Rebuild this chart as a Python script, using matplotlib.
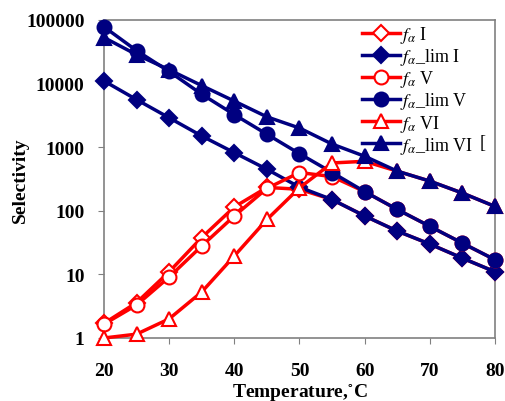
"""Selectivity vs temperature (log scale)"""
import matplotlib

matplotlib.use("Agg")
import matplotlib.pyplot as plt
from matplotlib.ticker import FixedLocator, FuncFormatter, NullLocator

plt.rcParams["font.family"] = ["Liberation Serif", "DejaVu Serif"]
plt.rcParams["mathtext.fontset"] = "stix"

# Data
temperature = [20, 25, 30, 35, 40, 45, 50, 55, 60, 65, 70, 75, 80]

lim_I = [11000, 5600, 2900, 1500, 820, 450, 235, 150, 83, 48, 30, 18, 11]
lim_V = [78000, 33000, 15500, 6800, 3250, 1600, 790, 400, 200, 105, 57, 31, 17]
lim_VI = [53000, 28500, 16500, 9300, 5300, 3000, 2000, 1120, 720, 420, 293, 190, 117]

f_I = [1.7, 3.6, 11, 38, 115, 233, 218, 150, 83, 48, 30, 18, 11]
f_V = [1.65, 3.3, 9.1, 28, 83, 225, 400, 345, 200, 105, 57, 31, 17]
f_VI = [1.0, 1.15, 2.0, 5.3, 19.5, 73, 230, 565, 600, 420, 293, 190, 117]

RED = "#ff0000"
NAVY = "#000080"

series = [
    (f_I, r"$f_\alpha$ I", RED, "D", "white", 8),
    (lim_I, r"$f_\alpha$_lim I", NAVY, "D", NAVY, 8),
    (f_V, r"$f_\alpha$ V", RED, "o", "white", 10),
    (lim_V, r"$f_\alpha$_lim V", NAVY, "o", NAVY, 10),
    (f_VI, r"$f_\alpha$ VI", RED, "^", "white", 10),
    (lim_VI, r"$f_\alpha$_lim VI", NAVY, "^", NAVY, 10),
]

fig = plt.figure(figsize=(5.06, 4.02), dpi=100)
ax = fig.add_axes([104 / 506, 1 - 339 / 402, (495 - 104) / 506, (339 - 21) / 402])

for i, (vals, label, color, marker, face, ms) in enumerate(series):
    ax.plot(
        temperature, vals, color=color, lw=2.5, marker=marker, ms=ms,
        markerfacecolor=face, markeredgecolor=color, markeredgewidth=1.5,
        label=label, zorder=3 + i, clip_on=False,
    )

ax.set_yscale("log")
ax.set_xlim(20, 80)
ax.set_ylim(1, 100000)
ax.xaxis.set_major_locator(FixedLocator([20, 30, 40, 50, 60, 70, 80]))
ax.yaxis.set_major_locator(FixedLocator([1, 10, 100, 1000, 10000, 100000]))
ax.yaxis.set_minor_locator(NullLocator())
ax.yaxis.set_major_formatter(FuncFormatter(lambda v, p: f"{v:.0f}"))

for lbl in ax.get_xticklabels() + ax.get_yticklabels():
    lbl.set_fontweight("bold")
ax.tick_params(labelsize=14, direction="out", length=4, color="#808080")
ax.tick_params(axis="x", pad=13)
ax.tick_params(axis="y", pad=10)

for sp in ax.spines.values():
    sp.set_color("#808080")
    sp.set_linewidth(1.2)

ax.set_xlabel("Temperature,$^{\\circ}$C", fontsize=14, fontweight="bold", labelpad=2)
ax.set_ylabel("Selectivity", fontsize=14, fontweight="bold", labelpad=-2)

leg = ax.legend(
    loc="upper left", bbox_to_anchor=((358 - 104) / 391, 0.998), frameon=False,
    fontsize=13, handlelength=2.1, handletextpad=0.05, labelspacing=0.06,
    borderaxespad=0.0, borderpad=0.2,
)
leg.set_zorder(20)

fig.text(480 / 506, 1 - 144 / 402, "[", fontsize=13, va="center")

plt.savefig("out.png", dpi=100)
